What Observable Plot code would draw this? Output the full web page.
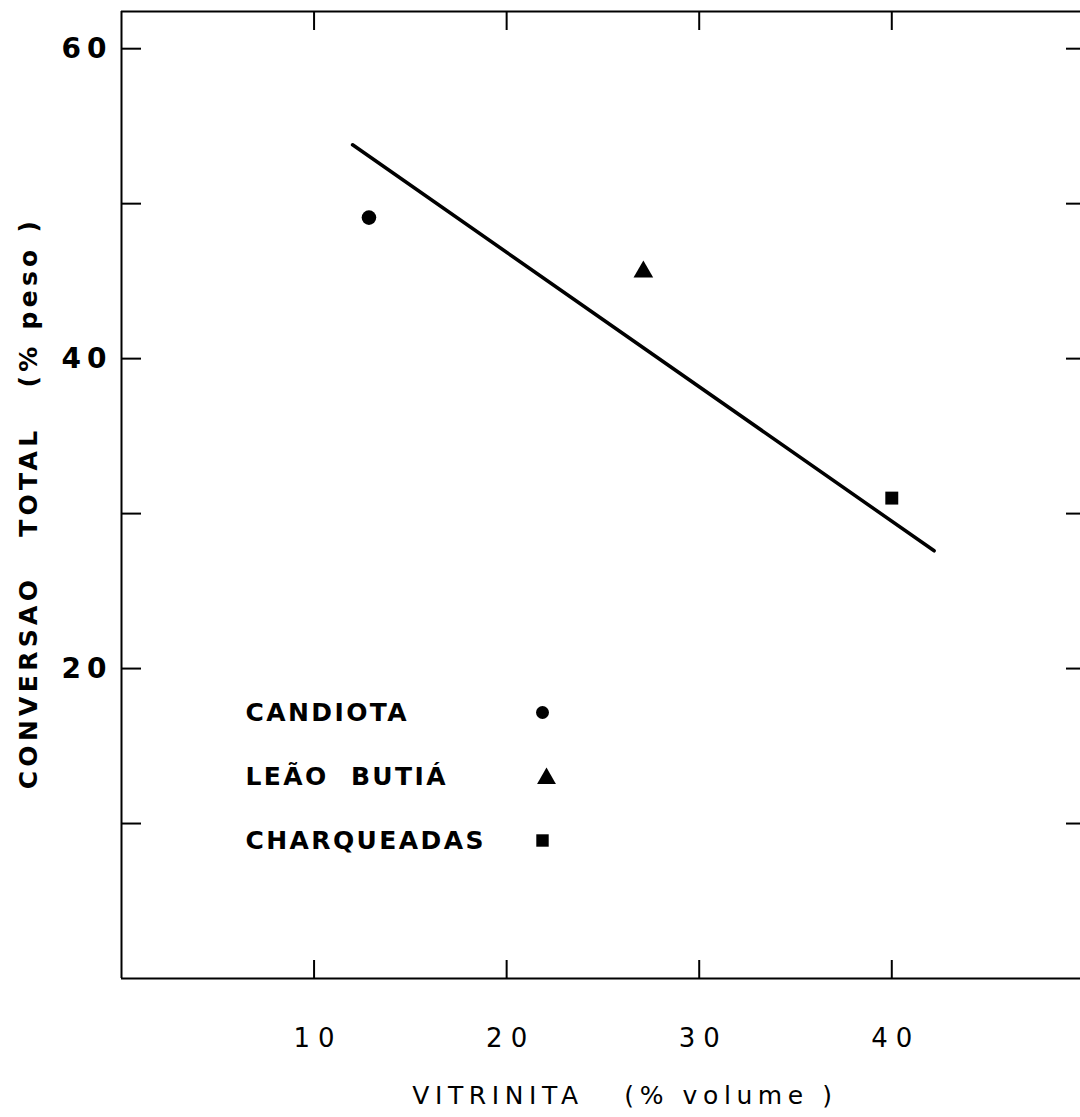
<!DOCTYPE html>
<html>
<head>
<meta charset="utf-8">
<script src="https://cdn.jsdelivr.net/npm/d3@7"></script>
<script src="https://cdn.jsdelivr.net/npm/@observablehq/plot@0.6"></script>
<style>
  html, body { margin: 0; padding: 0; background: #fff; }
  #chart svg { display: block; }
</style>
</head>
<body>
<div id="chart"></div>
<script>
// ---- data ----
const sites = ["CANDIOTA", "LEÃO BUTIÁ", "CHARQUEADAS"];
const legendLabels = ["CANDIOTA", "LEÃO\u00a0\u00a0BUTIÁ", "CHARQUEADAS"];
const vitrinita = [12.85, 27.1, 40.0];      // % volume
const conversao = [49.1, 45.6, 31.0];       // % peso
const symbols = ["circle", "triangle", "square"];
const fitX = [12.0, 42.2];
const fitY = [53.8, 27.6];
const xTicks = [10, 20, 30, 40];
const xTickLabels = [10, 20, 30, 40];
const yTicks = [10, 20, 30, 40, 50, 60];
const yTickLabels = [20, 40, 60];
const xDomain = [0, 49.8];
const yDomain = [0, 62.4];
const xTitle = "VITRINITA\u00a0\u00a0\u00a0(%\u00a0volume\u00a0)";
const yTitle = "CONVERSAO\u00a0\u00a0\u00a0TOTAL\u00a0\u00a0\u00a0(%\u00a0peso\u00a0)";

const points = sites.map((s, i) => ({site: s, x: vitrinita[i], y: conversao[i], symbol: symbols[i]}));
const fit = fitX.map((x, i) => ({x, y: fitY[i]}));

const font = "DejaVu Sans";
const none = () => "";

const legendMarks = legendLabels.flatMap((label, i) => [
  Plot.text([label], {
    frameAnchor: "top-left", dx: 124, dy: 701 + i * 64,
    textAnchor: "start", lineAnchor: "middle",
    fontSize: 25, fontWeight: "bold", fill: "black"
  }),
  Plot.dot([symbols[i]], {
    frameAnchor: "top-left", dx: i === 1 ? 425 : 421, dy: 701 + i * 64 + (i === 1 ? 2 : 0),
    symbol: d => d, r: i === 0 ? 6.5 : 7, fill: "black", stroke: "none"
  })
]);

const chart = Plot.plot({
  width: 1080,
  height: 1117,
  marginLeft: 121,
  marginRight: 0,
  marginTop: 11,
  marginBottom: 139,
  style: {fontFamily: font, background: "white", color: "black"},
  x: {domain: xDomain},
  y: {domain: yDomain},
  symbol: {domain: symbols, range: symbols},
  marks: [
    // frame (left, bottom, top)
    Plot.ruleX([xDomain[0]], {stroke: "black", strokeWidth: 2}),
    Plot.ruleY([yDomain[0], yDomain[1]], {stroke: "black", strokeWidth: 2}),
    // inward ticks
    Plot.axisY(yTicks, {anchor: "left", tickSize: -20, tickFormat: none, label: null, strokeWidth: 2}),
    Plot.axisY(yTicks, {anchor: "right", tickSize: -15, tickFormat: none, label: null, strokeWidth: 2}),
    Plot.axisX(xTicks, {anchor: "bottom", tickSize: -18, tickFormat: none, label: null, strokeWidth: 2}),
    Plot.axisX(xTicks, {anchor: "top", tickSize: -18, tickFormat: none, label: null, strokeWidth: 2}),
    // tick labels
    Plot.axisY(yTickLabels, {anchor: "left", tickSize: 0, tickPadding: 9, label: null,
      fontSize: 28, fontWeight: "bold"}),
    Plot.axisX(xTickLabels, {anchor: "bottom", tickSize: 0, tickPadding: 60, lineAnchor: "middle",
      label: null, fontSize: 26, dx: 4}),
    // titles
    Plot.text([yTitle], {frameAnchor: "left", dx: -93, dy: 8, rotate: -90,
      textAnchor: "middle", lineAnchor: "middle", fontSize: 25, fontWeight: "bold", fill: "black"}),
    Plot.text([xTitle], {frameAnchor: "bottom", dx: 24, dy: 117,
      textAnchor: "middle", lineAnchor: "middle", fontSize: 25, fill: "black"}),
    // regression line
    Plot.line(fit, {x: "x", y: "y", stroke: "black", strokeWidth: 3.5}),
    // points
    Plot.dot(points, {x: "x", y: "y", symbol: "symbol", r: 7.3, fill: "black", stroke: "none"}),
    ...legendMarks
  ]
});

document.getElementById("chart").append(chart);

// letter spacing of the hand-lettered original
const spacing = new Map();
legendLabels.forEach(l => spacing.set(l, 2.4));
spacing.set(yTitle, 4.3);
spacing.set(xTitle, 5.6);
d3.select(chart).selectAll("text").each(function () {
  const t = this.textContent;
  let s = spacing.get(t);
  if (s === undefined) {
    const fw = getComputedStyle(this).fontWeight;
    const isBold = fw === "700" || fw === "bold";
    if (isBold && yTickLabels.map(String).includes(t)) s = 6;
    else if (!isBold && xTickLabels.map(String).includes(t)) s = 8;
  }
  if (s !== undefined) this.setAttribute("letter-spacing", s);
});
</script>
</body>
</html>
